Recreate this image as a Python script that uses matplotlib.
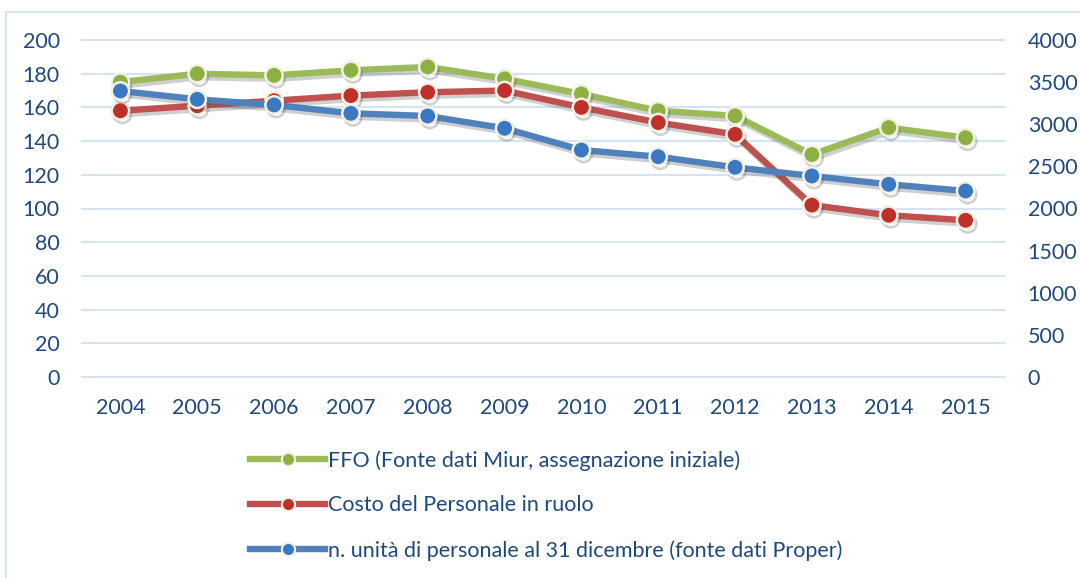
import matplotlib
matplotlib.use("Agg")
import matplotlib.pyplot as plt
import matplotlib.patheffects as pe
from matplotlib.lines import Line2D
import numpy as np

years = ["2004", "2005", "2006", "2007", "2008", "2009", "2010", "2011", "2012", "2013", "2014", "2015"]
ffo = [175, 180, 179, 182, 184, 177, 168, 158, 155, 132, 148, 142]
costo = [158, 161, 164, 167, 169, 170, 160, 151, 144, 102, 96, 93]
unita = [3395, 3296, 3229, 3130, 3098, 2952, 2694, 2615, 2489, 2386, 2287, 2208]
labels = ["FFO (Fonte dati Miur, assegnazione iniziale)",
          "Costo del Personale in ruolo",
          "n. unità di personale al 31 dicembre (fonte dati Proper)"]

plt.rcParams['font.family'] = ['Lato', 'DejaVu Sans']
txt = '#1F497D'
grid = '#D6E3F3'
edge = '#F3F1E4'
cols = [('#9BBB59', '#8DB042'), ('#C0504D', '#C0302B'), ('#4F81BD', '#3A78C2')]
fs = 15.5

fig = plt.figure(figsize=(10.8, 5.78), dpi=100)
ax = fig.add_axes([82/1080, 1-377/578, (1004-82)/1080, (377-40)/578])
ax2 = ax.twinx()

x = np.arange(len(years))
shadow = [pe.SimpleLineShadow(offset=(1.5, -2.5), shadow_color='#555555', alpha=0.28), pe.Normal()]

def plot(a, y, c, z):
    a.plot(x, y, color=c[0], lw=4.6, marker='o', ms=12.5, mfc=c[1], mec=edge, mew=1.8,
           path_effects=shadow, zorder=z, solid_capstyle='round', clip_on=False)

plot(ax, ffo, cols[0], 3)
plot(ax, costo, cols[1], 4)
plot(ax2, unita, cols[2], 5)

ax.set_xlim(-0.5, len(years) - 0.5)
ax.set_ylim(0, 200)
ax.set_yticks(np.arange(0, 201, 20))
ax2.set_ylim(0, 4000)
ax2.set_yticks(np.arange(0, 4001, 500))
ax.set_xticks(x)
ax.set_xticklabels(years)

for a in (ax, ax2):
    for s in a.spines.values():
        s.set_visible(False)
    a.tick_params(length=0, labelsize=fs, labelcolor=txt)
ax.tick_params(axis='y', pad=16)
ax2.tick_params(axis='y', pad=17)
ax.tick_params(axis='x', pad=15)
ax.yaxis.grid(True, color=grid, lw=1.5)
for gl in ax.get_ygridlines():
    gl.set_clip_on(False)
ax.set_axisbelow(True)

# border lines (top & left)
fig.add_artist(Line2D([6/1080, 6/1080], [1-12/578, 0], color=grid, lw=1.5))
fig.add_artist(Line2D([6/1080, 1], [1-12/578, 1-12/578], color=grid, lw=1.5))

handles = [Line2D([], [], color=c[0], lw=4.6, marker='o', ms=9.5, mfc=c[1], mec=edge, mew=1.5) for c in cols]
leg = fig.legend(handles, labels, loc='upper left', bbox_to_anchor=(250/1080, 1-450/578),
                 frameon=False, fontsize=fs, handlelength=3.5, handletextpad=0.12,
                 labelspacing=1.15, borderaxespad=0, borderpad=0)
for t in leg.get_texts():
    t.set_color(txt)

fig.savefig("out.png", dpi=100)
